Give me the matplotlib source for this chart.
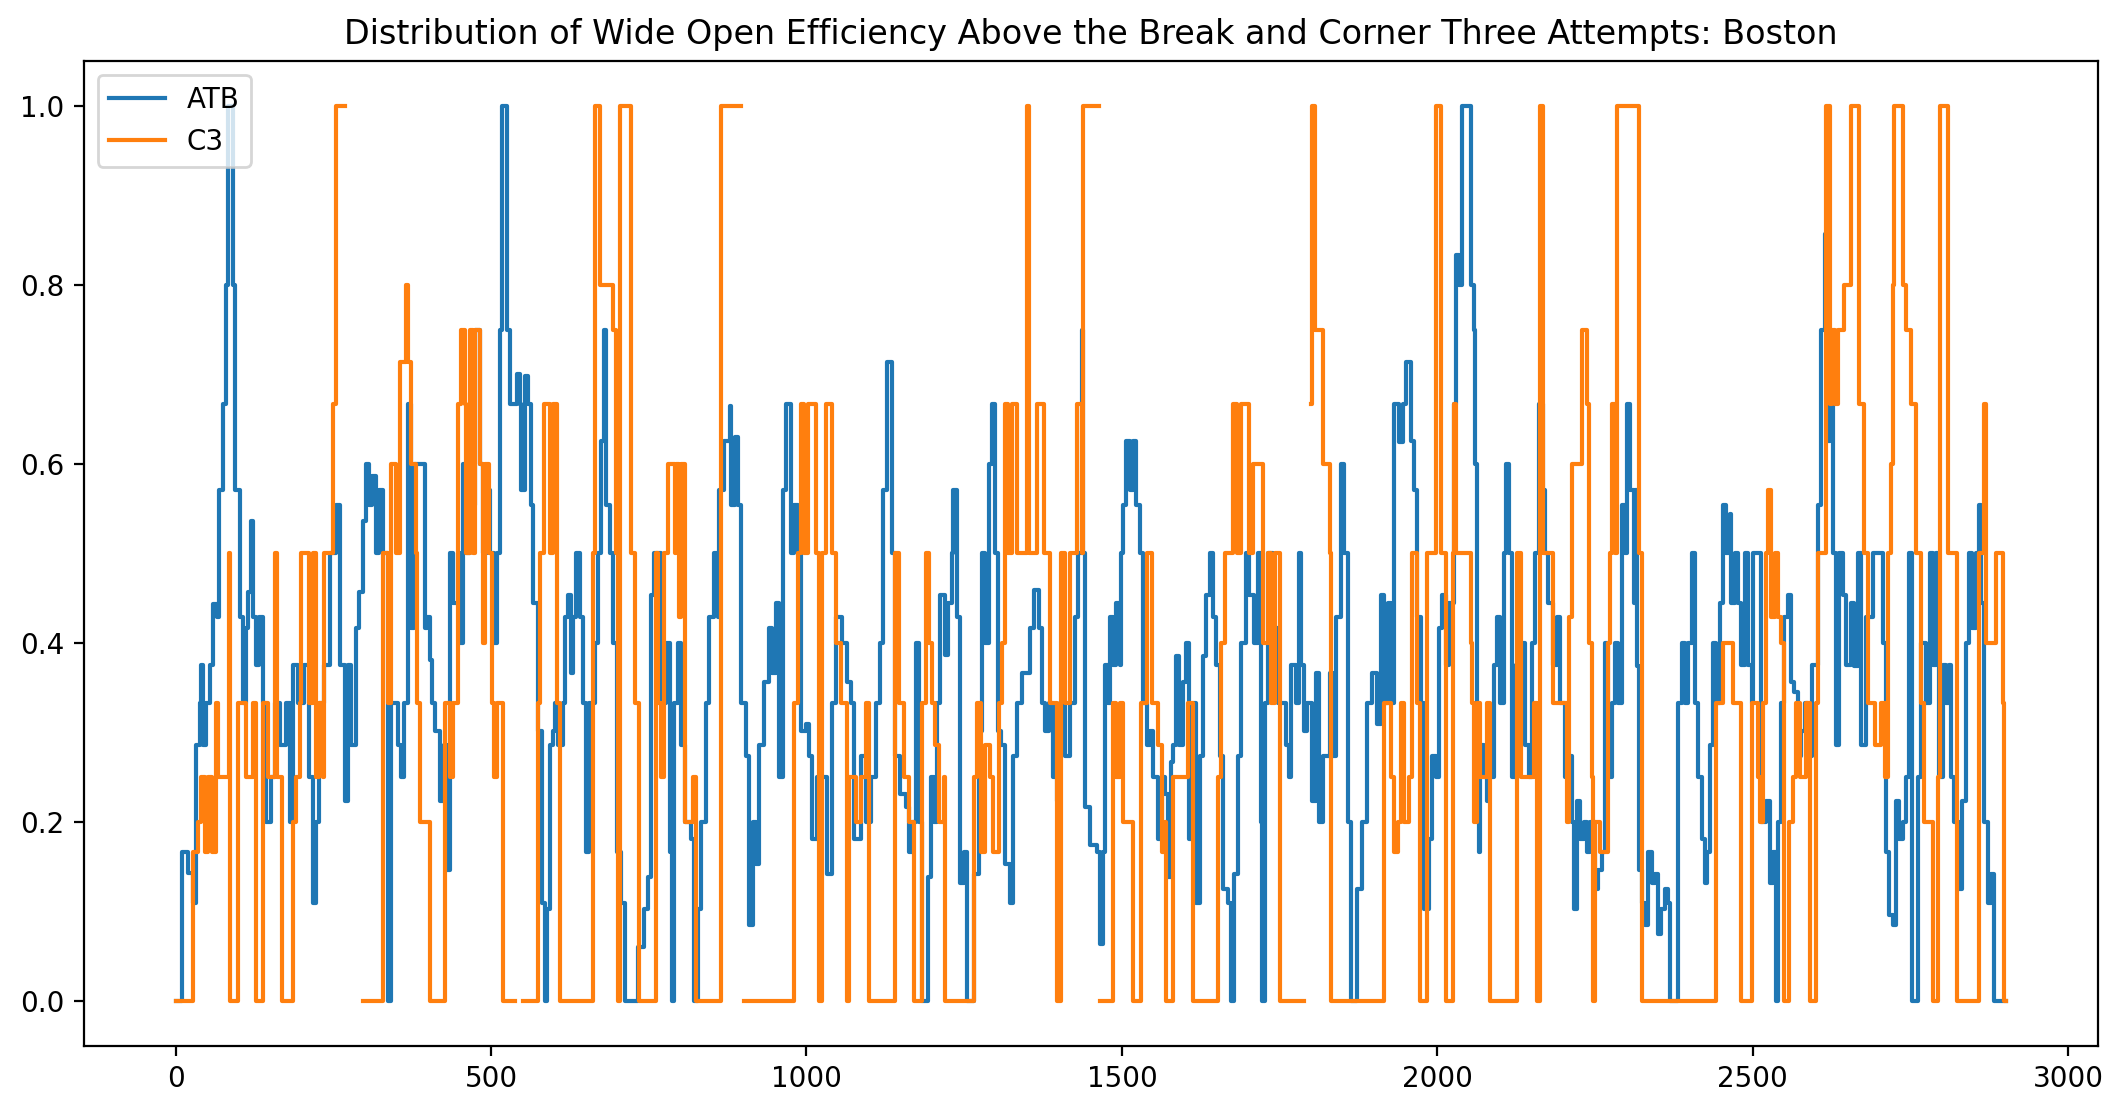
import numpy as np
import matplotlib
matplotlib.use("Agg")
import matplotlib.pyplot as plt

nan = np.nan

# ATB series: shot index where the value changes, and the value from there on
atb_x = [0, 10, 20, 28, 32, 38, 41, 44, 48, 54, 60, 65, 69, 75, 80, 83, 91, 94, 102, 107,
         111, 115, 119, 123, 128, 133, 139, 144, 152, 157, 165, 175, 181, 186, 194, 204, 212, 218, 223, 228,
         236, 244, 254, 260, 268, 273, 278, 286, 291, 297, 302, 307, 312, 318, 323, 328, 336, 341, 352, 357,
         362, 368, 373, 378, 395, 398, 403, 406, 411, 419, 425, 430, 435, 440, 448, 451, 455, 461, 467, 469,
         474, 483, 488, 493, 498, 504, 509, 514, 517, 526, 530, 541, 546, 548, 554, 559, 564, 567, 575, 580,
         585, 588, 593, 598, 601, 606, 614, 617, 622, 626, 630, 634, 641, 646, 650, 656, 664, 670, 675, 679,
         683, 688, 693, 699, 706, 712, 733, 738, 743, 749, 754, 759, 770, 778, 783, 787, 790, 796, 801, 807,
         817, 821, 828, 833, 841, 845, 854, 859, 862, 870, 878, 881, 886, 891, 896, 904, 909, 915, 920, 925,
         933, 941, 946, 952, 957, 962, 967, 975, 980, 986, 991, 999, 1004, 1009, 1017, 1033, 1041, 1046, 1057, 1065,
         1070, 1075, 1086, 1094, 1102, 1110, 1117, 1122, 1127, 1136, 1141, 1149, 1157, 1162, 1168, 1173, 1178, 1183, 1192, 1197,
         1202, 1207, 1212, 1220, 1225, 1231, 1233, 1239, 1244, 1249, 1254, 1265, 1273, 1278, 1283, 1289, 1294, 1299, 1303, 1308,
         1315, 1323, 1328, 1334, 1341, 1355, 1360, 1368, 1373, 1378, 1384, 1391, 1397, 1402, 1410, 1418, 1426, 1431, 1436, 1439,
         1441, 1449, 1460, 1465, 1470, 1473, 1478, 1481, 1486, 1491, 1497, 1499, 1502, 1507, 1512, 1518, 1523, 1528, 1534, 1539,
         1544, 1549, 1557, 1563, 1568, 1573, 1577, 1581, 1586, 1591, 1597, 1602, 1607, 1613, 1618, 1623, 1628, 1634, 1639, 1644,
         1649, 1655, 1660, 1668, 1673, 1678, 1684, 1689, 1697, 1702, 1710, 1715, 1721, 1722, 1726, 1731, 1739, 1747, 1760, 1765,
         1768, 1776, 1780, 1784, 1789, 1794, 1802, 1808, 1812, 1818, 1829, 1834, 1839, 1847, 1852, 1858, 1863, 1873, 1881, 1889,
         1897, 1905, 1910, 1916, 1921, 1926, 1931, 1939, 1945, 1950, 1958, 1963, 1968, 1974, 1979, 1987, 1992, 1997, 2002, 2008,
         2013, 2018, 2026, 2030, 2035, 2039, 2053, 2058, 2059, 2063, 2066, 2068, 2074, 2079, 2082, 2087, 2089, 2095, 2100, 2105,
         2108, 2113, 2118, 2124, 2129, 2134, 2139, 2145, 2150, 2155, 2161, 2168, 2171, 2176, 2184, 2190, 2195, 2203, 2208, 2213,
         2217, 2221, 2226, 2232, 2237, 2242, 2250, 2255, 2261, 2266, 2271, 2276, 2282, 2287, 2292, 2298, 2300, 2305, 2311, 2313,
         2316, 2319, 2324, 2329, 2334, 2340, 2345, 2350, 2355, 2361, 2366, 2369, 2382, 2387, 2392, 2398, 2403, 2408, 2413, 2419,
         2424, 2427, 2432, 2437, 2442, 2448, 2453, 2458, 2464, 2466, 2471, 2477, 2482, 2487, 2492, 2498, 2500, 2508, 2513, 2521,
         2527, 2532, 2537, 2540, 2545, 2550, 2556, 2561, 2566, 2572, 2577, 2582, 2587, 2593, 2603, 2608, 2614, 2618, 2622, 2627,
         2632, 2637, 2643, 2648, 2656, 2661, 2666, 2672, 2680, 2690, 2706, 2711, 2716, 2722, 2727, 2732, 2738, 2743, 2748, 2753,
         2761, 2766, 2774, 2780, 2785, 2790, 2795, 2801, 2806, 2811, 2814, 2819, 2827, 2832, 2838, 2843, 2848, 2853, 2859, 2862,
         2867, 2872, 2877, 2882, 2901]
atb_y = [0, 0.167, 0.143, 0.11, 0.286, 0.333, 0.375, 0.286, 0.333, 0.375, 0.444, 0.429, 0.571, 0.667, 0.8, 1.0, 0.8, 0.571, 0.429, 0.333,
         0.417, 0.457, 0.536, 0.429, 0.375, 0.429, 0.333, 0.2, 0.25, 0.333, 0.286, 0.333, 0.2, 0.375, 0.333, 0.375, 0.25, 0.11, 0.2, 0.333,
         0.375, 0.5, 0.554, 0.375, 0.224, 0.375, 0.286, 0.417, 0.457, 0.536, 0.6, 0.554, 0.587, 0.5, 0.571, 0.5, 0, 0.333, 0.286, 0.25,
         0.333, 0.667, 0.417, 0.6, 0.417, 0.429, 0.381, 0.333, 0.302, 0.224, 0.286, 0.146, 0.5, 0.445, 0.5, 0.4, 0.6, 0.5, 0.6, 0.554,
         0.75, 0.6, 0.5, 0.571, 0.5, 0.4, 0.5, 0.75, 1.0, 0.75, 0.667, 0.7, 0.667, 0.571, 0.698, 0.667, 0.554, 0.445, 0.302, 0.11,
         0, 0.103, 0.286, 0.302, 0.333, 0.286, 0.333, 0.429, 0.454, 0.367, 0.429, 0.5, 0.429, 0.333, 0.167, 0.333, 0.4, 0.5, 0.626, 0.75,
         0.554, 0.5, 0.4, 0.167, 0.11, 0, 0.06, 0.06, 0.103, 0.139, 0.454, 0.5, 0.333, 0.4, 0.167, 0, 0.333, 0.4, 0.286, 0.2,
         0.181, 0, 0.103, 0.2, 0.333, 0.429, 0.5, 0.429, 0.571, 0.626, 0.665, 0.554, 0.63, 0.554, 0.333, 0.274, 0.085, 0.2, 0.153, 0.286,
         0.357, 0.417, 0.367, 0.445, 0.25, 0.571, 0.667, 0.5, 0.554, 0.5, 0.302, 0.31, 0.274, 0.181, 0.25, 0.142, 0.333, 0.429, 0.4, 0.357,
         0.333, 0.181, 0.274, 0.2, 0.25, 0.333, 0.4, 0.571, 0.714, 0.5, 0.274, 0.231, 0.217, 0.167, 0.2, 0.4, 0.2, 0, 0.139, 0.25,
         0.2, 0.333, 0.454, 0.387, 0.445, 0.5, 0.571, 0.429, 0.132, 0.167, 0, 0.142, 0.302, 0.5, 0.4, 0.6, 0.667, 0.5, 0.302, 0.286,
         0.153, 0.11, 0.274, 0.333, 0.367, 0.417, 0.459, 0.417, 0.333, 0.302, 0.333, 0.25, 0.224, 0.333, 0.274, 0.333, 0.429, 0.5, 0.75, 0.5,
         0.217, 0.174, 0.167, 0.064, 0.167, 0.375, 0.333, 0.429, 0.375, 0.445, 0.375, 0.5, 0.554, 0.626, 0.571, 0.626, 0.554, 0.5, 0.333, 0.286,
         0.302, 0.25, 0.181, 0.25, 0.231, 0.139, 0.267, 0.286, 0.386, 0.286, 0.357, 0.4, 0.181, 0.333, 0.11, 0.274, 0.386, 0.454, 0.5, 0.429,
         0.375, 0.274, 0.125, 0.11, 0, 0.142, 0.274, 0.4, 0.5, 0.454, 0.4, 0.5, 0.2, 0, 0.333, 0.5, 0.417, 0.333, 0.286, 0.25,
         0.375, 0.333, 0.5, 0.375, 0.302, 0.333, 0.224, 0.367, 0.2, 0.274, 0.367, 0.274, 0.429, 0.6, 0.5, 0.2, 0, 0.125, 0.2, 0.333,
         0.367, 0.31, 0.454, 0.333, 0.445, 0.333, 0.667, 0.624, 0.667, 0.714, 0.626, 0.571, 0.429, 0.333, 0.103, 0.181, 0.274, 0.25, 0.417, 0.454,
         0.375, 0.445, 0.667, 0.833, 0.8, 1.0, 0.8, 0.75, 0.6, 0.333, 0.167, 0.286, 0.25, 0.224, 0.302, 0.25, 0.375, 0.429, 0.333, 0.5,
         0.6, 0.5, 0.25, 0.375, 0.333, 0.4, 0.286, 0.25, 0.4, 0.5, 0.667, 0.571, 0.5, 0.445, 0.375, 0.429, 0.333, 0.25, 0.274, 0.2,
         0.103, 0.224, 0.181, 0.2, 0.167, 0.2, 0.125, 0.146, 0.167, 0.4, 0.25, 0.333, 0.4, 0.333, 0.554, 0.5, 0.667, 0.571, 0.445, 0.571,
         0.374, 0.146, 0.11, 0.085, 0.167, 0.132, 0.142, 0.075, 0.103, 0.125, 0.11, 0, 0.333, 0.4, 0.333, 0.4, 0.5, 0.333, 0.25, 0.181,
         0.132, 0.167, 0.286, 0.4, 0.333, 0.445, 0.554, 0.5, 0.544, 0.445, 0.5, 0.445, 0.375, 0.5, 0.375, 0.333, 0.5, 0.5, 0.2, 0.224,
         0.132, 0.167, 0, 0.2, 0.333, 0.429, 0.454, 0.357, 0.345, 0.274, 0.302, 0.333, 0.274, 0.375, 0.554, 0.75, 0.857, 0.626, 0.714, 0.5,
         0.286, 0.5, 0.454, 0.375, 0.445, 0.374, 0.5, 0.286, 0.429, 0.5, 0.4, 0.167, 0.096, 0.085, 0.224, 0.181, 0.2, 0.25, 0.5, 0,
         0.25, 0.4, 0.333, 0.5, 0.375, 0.5, 0.25, 0.375, 0.333, 0.375, 0.25, 0.2, 0.125, 0.224, 0.4, 0.5, 0.417, 0.5, 0.554, 0.445,
         0.2, 0.11, 0.142, 0, 0]

# C3 series (nan = no attempts in the window)
c3_x = [0, 27, 36, 41, 46, 52, 57, 64, 67, 85, 87, 99, 112, 123, 128, 139, 146, 157, 161, 168,
        186, 191, 197, 199, 212, 218, 223, 228, 233, 236, 249, 254, 268, 297, 328, 336, 341, 349, 355, 365,
        369, 373, 381, 383, 387, 403, 427, 435, 440, 448, 453, 459, 461, 467, 472, 475, 483, 488, 490, 496,
        501, 504, 509, 519, 538, 551, 575, 577, 584, 593, 598, 604, 609, 662, 664, 672, 693, 698, 701, 704,
        722, 728, 735, 762, 765, 770, 774, 780, 791, 793, 798, 801, 807, 820, 825, 865, 896, 901, 980, 987,
        991, 996, 1002, 1015, 1020, 1025, 1031, 1041, 1046, 1054, 1065, 1067, 1078, 1086, 1095, 1099, 1141, 1146, 1154, 1162,
        1170, 1183, 1189, 1194, 1199, 1204, 1210, 1218, 1220, 1265, 1270, 1276, 1283, 1291, 1296, 1305, 1310, 1315, 1320, 1326,
        1334, 1349, 1353, 1365, 1376, 1386, 1397, 1404, 1410, 1418, 1428, 1436, 1439, 1463, 1465, 1486, 1491, 1497, 1502, 1518,
        1531, 1539, 1547, 1557, 1563, 1568, 1570, 1581, 1605, 1613, 1652, 1657, 1663, 1676, 1682, 1689, 1702, 1707, 1723, 1731,
        1736, 1742, 1750, 1789, 1800, 1802, 1806, 1818, 1829, 1831, 1916, 1926, 1931, 1937, 1942, 1947, 1955, 1960, 1968, 1973,
        1984, 1997, 2005, 2013, 2024, 2026, 2029, 2053, 2055, 2058, 2063, 2068, 2079, 2084, 2126, 2132, 2153, 2158, 2163, 2168,
        2184, 2205, 2208, 2213, 2229, 2237, 2240, 2245, 2246, 2250, 2258, 2271, 2274, 2276, 2282, 2284, 2319, 2324, 2442, 2453,
        2469, 2482, 2498, 2508, 2511, 2516, 2521, 2524, 2529, 2535, 2540, 2545, 2550, 2558, 2564, 2569, 2574, 2585, 2590, 2600,
        2603, 2616, 2622, 2625, 2631, 2635, 2645, 2656, 2669, 2676, 2682, 2693, 2703, 2709, 2714, 2719, 2722, 2724, 2738, 2743,
        2751, 2759, 2766, 2772, 2785, 2793, 2797, 2809, 2824, 2859, 2866, 2869, 2885, 2896, 2898, 2902]
c3_y = [0, 0.167, 0.2, 0.25, 0.167, 0.25, 0.167, 0.333, 0.25, 0.5, 0, 0.333, 0.25, 0.333, 0, 0.333, 0.25, 0.5, 0.25, 0,
        0.2, 0.25, 0.333, 0.5, 0.333, 0.5, 0.25, 0.333, 0.25, 0.5, 0.667, 1.0, nan, 0, 0.5, 0.333, 0.6, 0.5, 0.714, 0.8,
        0.714, 0.6, 0.5, 0.333, 0.2, 0, 0.333, 0.25, 0.333, 0.667, 0.75, 0.667, 0.5, 0.75, 0.5, 0.75, 0.6, 0.4, 0.6, 0.5,
        0.333, 0.25, 0.333, 0, nan, 0, 0.333, 0.5, 0.667, 0.5, 0.667, 0.333, 0, 0.5, 1.0, 0.8, 0.75, 0.5, 0, 1.0,
        0.5, 0.333, 0, 0.5, 0.333, 0.25, 0.5, 0.6, 0.5, 0.6, 0.429, 0.6, 0.2, 0.25, 0, 1.0, nan, 0, 0.333, 0.5,
        0.667, 0.5, 0.667, 0.5, 0, 0.5, 0.667, 0.5, 0.4, 0.333, 0, 0.25, 0.2, 0.25, 0.333, 0, 0.5, 0.333, 0.25, 0.2,
        0, 0.333, 0.5, 0.4, 0.333, 0.286, 0.2, 0.25, 0, 0.25, 0.333, 0.167, 0.286, 0.25, 0.167, 0.333, 0.4, 0.667, 0.5, 0.667,
        0.5, 1.0, 0.5, 0.667, 0.5, 0.333, 0, 0.5, 0.333, 0.5, 0.667, 0.5, 1.0, nan, 0, 0.333, 0.25, 0.333, 0.2, 0,
        0.333, 0.5, 0.333, 0.286, 0.167, 0.2, 0, 0.25, 0.333, 0, 0.25, 0.4, 0.5, 0.667, 0.5, 0.667, 0.5, 0.6, 0.4, 0.5,
        0.333, 0.5, 0, nan, 0.667, 1.0, 0.75, 0.6, 0.5, 0, 0.333, 0.25, 0.167, 0.2, 0.333, 0.2, 0.25, 0.5, 0.333, 0,
        0.5, 1.0, 0.5, 0, 0.5, 0.667, 0.5, 0.4, 0.333, 0.2, 0.333, 0.25, 0.333, 0, 0.5, 0.25, 0.333, 0, 1.0, 0.5,
        0.333, 0.2, 0.429, 0.6, 0.75, 0.667, 0.4, 0.25, 0, 0.2, 0.167, 0.4, 0.5, 0.667, 0.5, 1.0, 0.5, 0, 0.333, 0.4,
        0.333, 0, 0.333, 0.25, 0.2, 0.333, 0.5, 0.571, 0.429, 0.5, 0.429, 0.4, 0, 0.2, 0.25, 0.333, 0.25, 0.333, 0, 0.333,
        0.5, 1.0, 0.667, 0.75, 0.667, 0.75, 0.8, 1.0, 0.667, 0.5, 0.333, 0.286, 0.333, 0.25, 0.5, 0.6, 0.8, 1.0, 0.8, 0.75,
        0.667, 0.5, 0.333, 0.2, 0, 0.25, 1.0, 0.5, 0, 0.5, 0.667, 0.4, 0.5, 0.333, 0, 0]

fig, ax = plt.subplots(figsize=(2122 / 200, 1112 / 200), dpi=200)
fig.subplots_adjust(left=0.0396, right=0.9887, top=0.9451, bottom=0.0594)

ax.plot(atb_x, atb_y, drawstyle='steps-post', label='ATB')
ax.plot(c3_x, c3_y, drawstyle='steps-post', label='C3')
ax.set_title('Distribution of Wide Open Efficiency Above the Break and Corner Three Attempts: Boston')
ax.legend(loc='upper left')

fig.savefig('out.png', dpi=200)
